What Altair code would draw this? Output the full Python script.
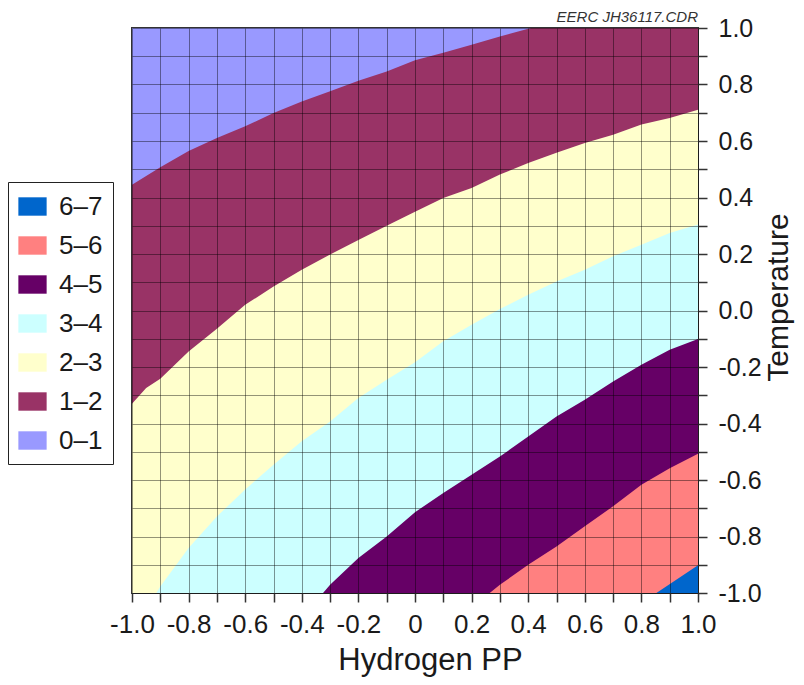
import json
import altair as alt
import pandas as pd

FONT = "Liberation Sans, Arial, sans-serif"

# ---- bands (legend) ----
bands = ["0–1", "1–2", "2–3", "3–4", "4–5", "5–6", "6–7"]
band_colors = ["#9999ff", "#993366", "#ffffcc", "#ccffff", "#660066", "#ff8080", "#0066cc"]

# ---- upper boundary of the region "value >= band" ----
top_x = [-1.0, 1.0]
top_y = [1.0, 1.0]

b1_x = [-1.0, -0.9, -0.8, -0.7, -0.6, -0.5, -0.4, -0.3, -0.2, -0.1, 0.0, 0.1, 0.2, 0.3, 0.41, 1.0]
b1_y = [0.445, 0.507, 0.565, 0.611, 0.652, 0.699, 0.740, 0.776, 0.813, 0.846, 0.886, 0.912, 0.941, 0.970, 1.0, 1.0]

b2_x = [-1.0, -0.95, -0.9, -0.8, -0.7, -0.6, -0.5, -0.4, -0.3, -0.2, -0.1, 0.0, 0.1, 0.2, 0.3, 0.4, 0.5, 0.6, 0.7, 0.8, 0.9, 1.0]
b2_y = [-0.33, -0.274, -0.242, -0.145, -0.065, 0.02, 0.085, 0.144, 0.198, 0.25, 0.30, 0.35, 0.398, 0.434, 0.481, 0.522, 0.558, 0.593, 0.622, 0.658, 0.681, 0.711]

b3_x = [-0.914, -0.9, -0.8, -0.7, -0.6, -0.5, -0.4, -0.3, -0.2, -0.1, 0.0, 0.1, 0.2, 0.3, 0.4, 0.5, 0.6, 0.7, 0.8, 0.9, 1.0]
b3_y = [-1.0, -0.977, -0.841, -0.729, -0.634, -0.546, -0.463, -0.393, -0.310, -0.245, -0.183, -0.109, -0.050, 0.005, 0.056, 0.103, 0.144, 0.192, 0.233, 0.274, 0.304]

b4_x = [-0.325, -0.3, -0.2, -0.1, 0.0, 0.1, 0.2, 0.3, 0.4, 0.5, 0.6, 0.7, 0.8, 0.9, 1.0]
b4_y = [-1.0, -0.971, -0.876, -0.800, -0.714, -0.646, -0.581, -0.517, -0.446, -0.375, -0.316, -0.251, -0.192, -0.139, -0.101]

b5_x = [0.264, 0.3, 0.4, 0.5, 0.6, 0.7, 0.8, 0.9, 1.0]
b5_y = [-1.0, -0.971, -0.900, -0.835, -0.764, -0.693, -0.617, -0.558, -0.507]

b6_x = [0.853, 0.906, 0.959, 1.0]
b6_y = [-1.0, -0.965, -0.929, -0.902]

# ---- ticks ----
tick_values = [-1.0, -0.9, -0.8, -0.7, -0.6, -0.5, -0.4, -0.3, -0.2, -0.1, 0.0,
               0.1, 0.2, 0.3, 0.4, 0.5, 0.6, 0.7, 0.8, 0.9, 1.0]
x_tick_labels = ["-1.0", "", "-0.8", "", "-0.6", "", "-0.4", "", "-0.2", "", "0",
                 "", "0.2", "", "0.4", "", "0.6", "", "0.8", "", "1.0"]
y_tick_labels = ["-1.0", "", "-0.8", "", "-0.6", "", "-0.4", "", "-0.2", "", "0.0",
                 "", "0.2", "", "0.4", "", "0.6", "", "0.8", "", "1.0"]

annotation = ["EERC JH36117.CDR"]

boundaries = [(top_x, top_y), (b1_x, b1_y), (b2_x, b2_y), (b3_x, b3_y),
              (b4_x, b4_y), (b5_x, b5_y), (b6_x, b6_y)]
rows = []
for band, (xs, ys) in zip(bands, boundaries):
    for xv, yv in zip(xs, ys):
        rows.append({"band": band, "x": xv, "y": yv})
df = pd.DataFrame(rows)

x_axis = alt.Axis(
    values=tick_values,
    labelExpr=json.dumps(x_tick_labels) + "[round((datum.value + 1) * 10)]",
    title="Hydrogen PP",
    grid=True, gridColor="#000000", gridOpacity=0.42, gridWidth=1,
    domain=False,
    ticks=True, tickSize=9, tickColor="#333333", tickWidth=1.5,
    labelFont=FONT, labelFontSize=26, labelColor="#1a1a1a", labelPadding=9,
    labelFlush=False, labelOverlap=False,
    titleFont=FONT, titleFontSize=31, titleFontWeight="normal", titleColor="#1a1a1a",
    titleX=298, titleY=67, titleAlign="center", titleBaseline="middle",
    zindex=1,
)
y_axis = alt.Axis(
    orient="right",
    values=tick_values,
    labelExpr=json.dumps(y_tick_labels) + "[round((datum.value + 1) * 10)]",
    title="Temperature",
    grid=True, gridColor="#000000", gridOpacity=0.42, gridWidth=1,
    domain=False,
    ticks=True, tickSize=9, tickColor="#333333", tickWidth=1.5,
    labelFont=FONT, labelFontSize=25, labelColor="#1a1a1a", labelPadding=11,
    labelFlush=False, labelOverlap=False,
    titleFont=FONT, titleFontSize=30, titleFontWeight="normal", titleColor="#1a1a1a",
    titleAngle=270, titleX=80, titleY=269, titleAlign="center", titleBaseline="middle",
    zindex=1,
)

X = alt.X("x:Q", scale=alt.Scale(domain=[-1, 1], nice=False, zero=False), axis=x_axis)
Y = alt.Y("y:Q", scale=alt.Scale(domain=[-1, 1], nice=False, zero=False), axis=y_axis)

color = alt.Color(
    "band:N",
    scale=alt.Scale(domain=bands[::-1], range=band_colors[::-1]),
    legend=alt.Legend(
        title=None, orient="none", legendX=-124, legendY=154,
        symbolType="M-1,-0.65H1V0.65H-1Z", symbolSize=800,
        symbolStrokeWidth=0, symbolOpacity=1,
        labelFont=FONT, labelFontSize=26, labelColor="#1a1a1a",
        labelOffset=12, rowPadding=11, padding=10,
        strokeColor="#222222",
    ),
)

layers = []
for b in bands:
    layers.append(
        alt.Chart(df)
        .transform_filter(alt.datum.band == b)
        .mark_area(interpolate="linear", opacity=1)
        .encode(x=X, y=Y, y2=alt.datum(-1.0), color=color)
    )

note = (
    alt.Chart(pd.DataFrame({"t": annotation}))
    .mark_text(align="right", baseline="bottom", font=FONT, fontSize=15,
               fontStyle="italic", color="#333333")
    .encode(text="t:N", x=alt.value(566), y=alt.value(-3))
)
layers.append(note)

chart = (
    alt.layer(*layers)
    .properties(
        width=566, height=565,
        padding={"left": 124, "top": 20, "right": 98, "bottom": 84},
        autosize=alt.AutoSizeParams(type="none"),
        background="white",
    )
    .configure_view(stroke="#333333", strokeWidth=2)
)

chart.save("out.html", embed_options={"renderer": "svg", "actions": False})
